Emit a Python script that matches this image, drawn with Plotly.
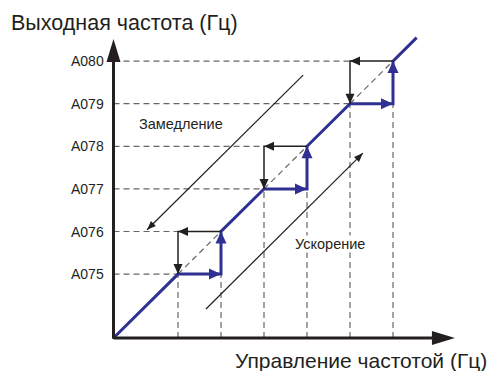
import plotly.graph_objects as go

# output-frequency levels on the y axis
freq_labels = ["A075", "A076", "A077", "A078", "A079", "A080"]
freq_levels = [1.5, 2.5, 3.5, 4.5, 5.5, 6.5]

# jump bands: control frequency where the jump starts / ends
jump_start = [1.5, 3.5, 5.5]
jump_end = [2.5, 4.5, 6.5]
jump_low = [1.5, 3.5, 5.5]
jump_high = [2.5, 4.5, 6.5]
line_end = 7.05

# long direction arrows (tail -> tip)
decel_x = [4.41, 0.78]
decel_y = [6.17, 2.54]
accel_x = [2.15, 5.80]
accel_y = [0.68, 4.34]
decel_text = ("Замедление", 1.57, 5.02)
accel_text = ("Ускорение", 5.03, 2.21)

x_axis_end = 7.94
y_axis_end = 7.02

W, H = 491, 371
X0PX, Y0PX = 113.5, 338
XU, YU = 43.0, 42.6
xr = [-X0PX / XU, (W - X0PX) / XU]
yr = [(Y0PX - H) / YU, Y0PX / YU]

BLUE = "#2e3192"
BLACK = "#231f20"
GREY = "#666666"
FONT = "Liberation Sans, Arial, sans-serif"

fig = go.Figure()
shapes = []


def head(tx, ty, ux, uy, length, width, color):
    # triangle arrowhead, tip at (tx, ty), direction (ux, uy) in pixel space
    n = (ux ** 2 + uy ** 2) ** 0.5
    ux, uy = ux / n, uy / n
    bx, by = -ux * length, -uy * length
    px, py = -uy * width / 2, ux * width / 2
    pts = [(tx, ty),
           (tx + (bx + px) / XU, ty + (by + py) / YU),
           (tx + (bx - px) / XU, ty + (by - py) / YU)]
    path = "M " + " L ".join(f"{a:.4f},{b:.4f}" for a, b in pts) + " Z"
    shapes.append(dict(type="path", path=path, xref="x", yref="y",
                       fillcolor=color, line=dict(width=0), layer="above"))


def seg(xs, ys, color, width, dash=None):
    fig.add_trace(go.Scatter(x=xs, y=ys, mode="lines", hoverinfo="skip",
                             line=dict(color=color, width=width, dash=dash),
                             showlegend=False))


# dashed guide lines
dx, dy = [], []
for s, e, lo, hi in zip(jump_start, jump_end, jump_low, jump_high):
    dx += [0, s, None, 0, s, None, s, s, None, e, e, None, s, e, None]
    dy += [lo, lo, None, hi, hi, None, 0, lo, None, 0, lo, None, lo, hi, None]
seg(dx, dy, GREY, 1.2, "6px,4px")

# blue staircase (acceleration path)
bx, by = [0], [0]
for s, e, lo, hi in zip(jump_start, jump_end, jump_low, jump_high):
    bx += [s, e, e]
    by += [lo, lo, hi]
bx.append(line_end)
by.append(line_end)
seg(bx, by, BLUE, 3)
for s, e, lo, hi in zip(jump_start, jump_end, jump_low, jump_high):
    head(e, lo, 1, 0, 12, 11, BLUE)
    head(e, hi, 0, 1, 12, 11, BLUE)

# black deceleration steps
for s, e, lo, hi in zip(jump_start, jump_end, jump_low, jump_high):
    seg([e, s, s], [hi, hi, lo], BLACK, 1.5)
    head(s, hi, -1, 0, 10, 9, BLACK)
    head(s, lo, 0, -1, 10, 9, BLACK)

# long diagonal arrows
for xs, ys in ((decel_x, decel_y), (accel_x, accel_y)):
    seg(xs, ys, BLACK, 1.2)
    head(xs[1], ys[1], (xs[1] - xs[0]) * XU, (ys[1] - ys[0]) * YU, 9, 7, BLACK)

# axes
seg([0, x_axis_end - 0.3], [0, 0], BLACK, 3)
seg([0, 0], [-0.02, y_axis_end - 0.3], BLACK, 3)
head(x_axis_end, 0, 1, 0, 23, 14, BLACK)
head(0, y_axis_end, 0, 1, 23, 14, BLACK)

ann = []
for lab, lv in zip(freq_labels, freq_levels):
    ann.append(dict(x=0, y=lv, xref="x", yref="y", text=lab, showarrow=False,
                    xanchor="right", yanchor="middle", xshift=-8,
                    font=dict(family=FONT, size=14, color=BLACK)))
for t, x, y in (decel_text, accel_text):
    ann.append(dict(x=x, y=y, xref="x", yref="y", text=t, showarrow=False,
                    bgcolor="white", borderpad=0,
                    font=dict(family=FONT, size=14.5, color=BLACK)))
ann.append(dict(x=9 / W, y=1 - 23 / H, xref="paper", yref="paper",
                text="Выходная частота (Гц)", showarrow=False,
                xanchor="left", yanchor="middle",
                font=dict(family=FONT, size=21.5, color=BLACK)))
ann.append(dict(x=489 / W, y=1 - 360 / H, xref="paper", yref="paper",
                text="Управление частотой (Гц)", showarrow=False,
                xanchor="right", yanchor="middle",
                font=dict(family=FONT, size=21, color=BLACK)))

fig.update_layout(
    width=W, height=H, margin=dict(l=0, r=0, t=0, b=0),
    paper_bgcolor="white", plot_bgcolor="white",
    xaxis=dict(range=xr, visible=False, fixedrange=True),
    yaxis=dict(range=yr, visible=False, fixedrange=True),
    shapes=shapes, annotations=ann,
)
fig.write_html("out.html", config={"displayModeBar": False},
               post_script="document.body.style.margin='0';")
